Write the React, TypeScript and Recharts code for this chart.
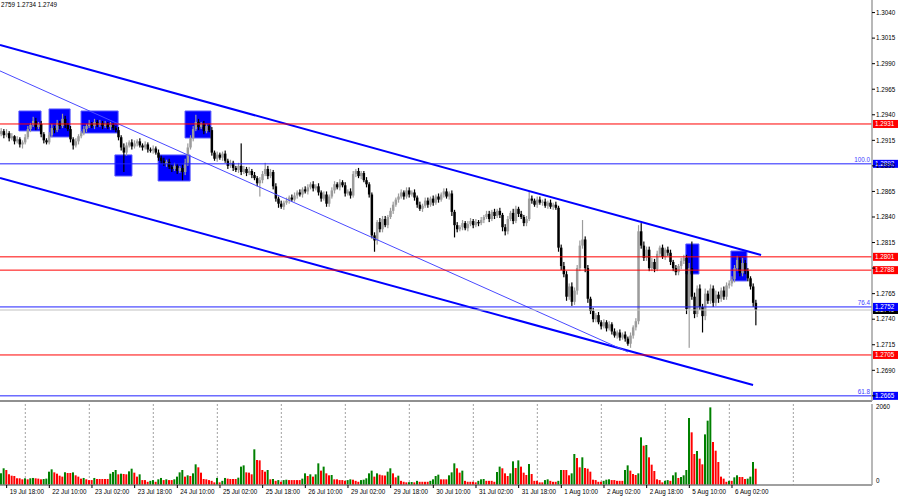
import {
  ComposedChart, Bar, Cell,
  XAxis, YAxis,
  CartesianGrid,
  ReferenceLine, ReferenceArea,
} from 'recharts'

// prices are stored as pips: 2924 -> 1.2924
const FIRST_OPEN = 2921

const closes = [
  2924, 2920, 2922, 2917, 2919, 2914, 2916, 2911, 2913, 2918,
  2926, 2930, 2934, 2928, 2931, 2921, 2915, 2913, 2920, 2927,
  2925, 2932, 2929, 2936, 2930, 2926, 2916, 2910, 2914, 2919,
  2922, 2926, 2929, 2931, 2929, 2933, 2930, 2932, 2929, 2931,
  2928, 2930, 2927, 2925, 2918, 2908, 2903, 2910, 2913, 2909,
  2912, 2914, 2910, 2908, 2911, 2906, 2905, 2907, 2903, 2898,
  2895, 2892, 2894, 2889, 2887, 2890, 2885, 2888, 2884, 2893,
  2908, 2917, 2926, 2933, 2928, 2931, 2924, 2929, 2925, 2903,
  2897, 2901, 2898, 2902, 2895, 2890, 2893, 2888, 2886, 2890,
  2884, 2887, 2883, 2885, 2881, 2878, 2873, 2876, 2882, 2887,
  2880, 2884, 2870, 2858, 2853, 2850, 2854, 2856, 2859, 2857,
  2861, 2864, 2862, 2867, 2865, 2869, 2872, 2868, 2870, 2864,
  2858, 2862, 2853, 2860, 2866, 2872, 2869, 2874, 2871, 2863,
  2865, 2861, 2882, 2885, 2880, 2883, 2876, 2872, 2862, 2822,
  2817, 2835, 2828, 2838, 2832, 2840, 2846, 2852, 2857, 2860,
  2864, 2860, 2866, 2862, 2864, 2859, 2852, 2848, 2851, 2856,
  2852, 2858, 2854, 2860, 2857, 2862, 2865, 2860, 2863, 2845,
  2832, 2828, 2830, 2834, 2829, 2833, 2836, 2832, 2835, 2834,
  2837, 2840, 2843, 2838, 2845, 2841, 2846, 2842, 2830, 2826,
  2838, 2844, 2836, 2848, 2843, 2840, 2834, 2838, 2858, 2856,
  2852, 2857, 2854, 2855, 2851, 2854, 2850, 2852, 2849, 2810,
  2792, 2784, 2762, 2772, 2757, 2768, 2790, 2812, 2818, 2790,
  2760, 2748, 2740, 2744, 2737, 2733, 2737, 2731, 2735, 2728,
  2724, 2727, 2722, 2725, 2721, 2716, 2724, 2732, 2738, 2826,
  2812, 2800, 2808, 2790, 2796, 2789, 2804, 2810, 2801, 2808,
  2805, 2796, 2790, 2786, 2792, 2797, 2800, 2750, 2790, 2762,
  2745, 2770, 2752, 2743, 2765, 2758, 2770, 2756, 2764, 2760,
  2768, 2762, 2773, 2775, 2779, 2790, 2798, 2785, 2795, 2787,
  2780, 2772, 2756, 2749,
]

// wick length above the body / below the body, in pips
const upWick = [
  3, 2, 4, 2, 3, 1, 3, 2, 2, 3,
  3, 2, 4, 3, 2, 3, 2, 2, 3, 4,
  2, 3, 2, 5, 3, 2, 3, 2, 3, 2,
  2, 3, 2, 4, 2, 3, 2, 3, 2, 3,
  2, 3, 2, 2, 3, 2, 4, 3, 2, 3,
  3, 2, 3, 2, 3, 2, 2, 3, 2, 3,
  2, 3, 2, 3, 2, 3, 2, 2, 3, 4,
  4, 3, 3, 7, 3, 2, 3, 2, 2, 3,
  2, 3, 2, 2, 3, 2, 3, 2, 2, 3,
  22, 3, 2, 4, 2, 3, 2, 3, 3, 6,
  3, 3, 2, 3, 2, 3, 2, 3, 2, 3,
  3, 2, 3, 2, 3, 3, 2, 3, 2, 3,
  2, 3, 3, 2, 3, 3, 2, 3, 2, 3,
  2, 3, 3, 2, 3, 2, 2, 3, 2, 2,
  3, 2, 4, 3, 3, 2, 3, 3, 2, 3,
  3, 2, 3, 3, 2, 3, 2, 3, 2, 3,
  3, 2, 3, 2, 3, 2, 3, 3, 2, 3,
  2, 3, 2, 3, 2, 3, 3, 2, 3, 2,
  3, 2, 3, 3, 2, 3, 2, 3, 2, 3,
  3, 2, 4, 3, 2, 3, 2, 3, 7, 3,
  2, 3, 3, 2, 3, 2, 3, 2, 3, 2,
  3, 4, 3, 3, 4, 3, 3, 5, 19, 3,
  3, 2, 3, 2, 3, 2, 3, 2, 3, 2,
  3, 2, 3, 2, 3, 2, 3, 2, 3, 6,
  8, 4, 3, 3, 4, 3, 3, 2, 3, 2,
  3, 3, 2, 3, 2, 3, 3, 3, 5, 26,
  4, 3, 4, 3, 5, 3, 4, 3, 4, 3,
  3, 4, 3, 3, 3, 3, 4, 3, 5, 3,
  3, 2, 3, 3,
]

const downWick = [
  2, 3, 2, 3, 2, 3, 2, 3, 4, 2,
  2, 3, 2, 3, 2, 3, 3, 2, 2, 2,
  3, 2, 3, 2, 3, 2, 3, 4, 2, 3,
  2, 2, 3, 2, 2, 3, 2, 2, 3, 2,
  2, 3, 2, 2, 3, 3, 19, 3, 2, 3,
  2, 3, 2, 3, 2, 3, 2, 3, 2, 3,
  3, 2, 3, 2, 3, 2, 3, 2, 8, 3,
  3, 2, 3, 2, 3, 2, 3, 2, 2, 3,
  2, 3, 2, 3, 2, 3, 2, 3, 2, 3,
  3, 2, 3, 2, 3, 2, 3, 13, 3, 2,
  3, 2, 3, 3, 4, 2, 3, 2, 3, 2,
  2, 3, 2, 3, 2, 3, 2, 3, 2, 3,
  3, 2, 3, 3, 2, 3, 2, 3, 2, 3,
  2, 3, 2, 3, 2, 3, 2, 3, 3, 3,
  11, 4, 3, 3, 2, 3, 2, 3, 2, 3,
  2, 3, 2, 3, 2, 3, 3, 2, 3, 2,
  3, 2, 3, 2, 3, 2, 3, 2, 3, 4,
  12, 3, 2, 3, 2, 3, 2, 3, 2, 3,
  2, 3, 2, 3, 2, 3, 2, 3, 4, 4,
  3, 2, 3, 2, 3, 2, 3, 3, 2, 3,
  2, 3, 2, 3, 2, 3, 2, 3, 2, 4,
  4, 3, 4, 3, 4, 3, 4, 3, 3, 4,
  4, 3, 3, 3, 2, 3, 2, 3, 2, 3,
  2, 3, 3, 2, 3, 2, 4, 3, 3, 3,
  3, 3, 3, 3, 3, 3, 2, 3, 2, 3,
  3, 3, 3, 3, 3, 3, 3, 5, 38, 3,
  4, 3, 3, 16, 4, 3, 3, 4, 3, 4,
  3, 3, 3, 3, 3, 3, 3, 3, 3, 3,
  3, 3, 4, 15,
]

const volumes = [
  308, 441, 396, 282, 246, 238, 177, 177, 150, 177,
  150, 177, 186, 177, 168, 150, 159, 168, 352, 414,
  334, 299, 246, 221, 334, 317, 317, 334, 256, 221,
  168, 186, 150, 130, 130, 186, 159, 159, 159, 159,
  159, 299, 343, 396, 282, 299, 291, 282, 361, 431,
  326, 221, 282, 130, 130, 85, 110, 130, 85, 150,
  186, 130, 150, 130, 130, 150, 221, 334, 396, 221,
  256, 238, 308, 546, 467, 326, 159, 150, 130, 110,
  70, 186, 70, 110, 186, 168, 159, 159, 159, 194,
  485, 519, 334, 326, 282, 942, 661, 651, 396, 352,
  396, 150, 159, 110, 130, 85, 130, 140, 130, 130,
  130, 130, 130, 168, 308, 238, 282, 221, 282, 572,
  379, 485, 308, 256, 264, 150, 150, 130, 130, 110,
  130, 150, 140, 110, 85, 130, 140, 177, 308, 379,
  221, 308, 273, 256, 250, 352, 441, 308, 203, 246,
  110, 85, 70, 75, 80, 70, 110, 85, 85, 85,
  85, 110, 150, 238, 273, 150, 150, 150, 256, 334,
  572, 441, 326, 379, 110, 85, 85, 85, 70, 110,
  150, 159, 110, 110, 110, 85, 343, 485, 441, 308,
  238, 308, 625, 449, 651, 485, 326, 264, 554, 291,
  110, 110, 70, 70, 130, 150, 110, 85, 85, 110,
  396, 396, 396, 256, 308, 819, 713, 467, 731, 449,
  431, 352, 140, 130, 85, 85, 110, 140, 150, 130,
  130, 110, 110, 110, 396, 519, 379, 291, 264, 308,
  1259, 1039, 1056, 731, 537, 370, 150, 130, 70, 110,
  130, 110, 256, 334, 186, 211, 256, 396, 1769, 1391,
  819, 898, 696, 546, 1337, 1699, 2050, 1136, 906, 607,
  221, 168, 85, 110, 110, 203, 256, 211, 211, 159,
  168, 221, 607, 431,
]

const timeLabels = [
  '19 Jul 18:00', '22 Jul 10:00', '23 Jul 02:00', '23 Jul 18:00', '24 Jul 10:00',
  '25 Jul 02:00', '25 Jul 18:00', '26 Jul 10:00', '29 Jul 02:00', '29 Jul 18:00',
  '30 Jul 10:00', '31 Jul 02:00', '31 Jul 18:00', '1 Aug 10:00', '2 Aug 02:00',
  '2 Aug 18:00', '5 Aug 10:00', '6 Aug 02:00',
]
const FIRST_LABEL_BAR = 2
const BARS_PER_LABEL = 16

// 1.2790 and 1.2665 sit under the level tags, so only their tick marks show
const priceTicks = [
  1.2665, 1.2690, 1.2715, 1.2740, 1.2765, 1.2790, 1.2815, 1.2840,
  1.2865, 1.2890, 1.2915, 1.2940, 1.2965, 1.2990, 1.3015, 1.3040,
]
const hiddenTickLabels = [1.2665, 1.2790]
const volumeTicks = [0, 2060]

const redLevels = [1.2931, 1.2801, 1.2788, 1.2705]
const fibPrices = [1.2892, 1.2752, 1.2665]
const fibNames = ['100.0', '76.4', '61.8']
const lastPrice = 1.2749
const ohlcText = '2759 1.2734 1.2749'

// daily separators (bar index)
const gridBars = [9, 33, 57, 81, 105, 129, 153, 177, 201, 225, 249, 273, 297]

// trend lines: [barFrom, priceFrom, barTo, priceTo]
const channelTop = [-0.49, 1.30083, 284.9, 1.28028]
const channelBottom = [-0.49, 1.28782, 281.9, 1.26756]
const midLine = [-0.49, 1.29829, 235, 1.27079]

// highlighted zones: [barFrom, barTo, priceLow, priceHigh]
const zones = [
  [6.6, 14.9, 1.29242, 1.29437],
  [17.9, 25.8, 1.29183, 1.29457],
  [29.9, 43.8, 1.29222, 1.29437],
  [42.6, 49.0, 1.28801, 1.29007],
  [58.8, 70.8, 1.28752, 1.29007],
  [68.9, 78.6, 1.29173, 1.29437],
  [256.7, 261.6, 1.27842, 1.28136],
  [273.6, 279.6, 1.27774, 1.28067],
]

const X_DOMAIN: [number, number] = [-0.49, 326.5]
const PRICE_DOMAIN: [number, number] = [1.265996, 1.30523]
const VOL_DOMAIN: [number, number] = [0, 2139]

const px = (p: number) => 1 + p / 10000

const candles = closes.map((c, i) => {
  const o = i === 0 ? FIRST_OPEN : closes[i - 1]
  const hi = Math.max(o, c) + upWick[i]
  const lo = Math.min(o, c) - downWick[i]
  return {
    i,
    open: px(o),
    close: px(c),
    high: px(hi),
    low: px(lo),
    range: [px(lo), px(hi)],
  }
})

const volData = volumes.map((v, i) => ({
  i,
  vol: v,
  color: i > 0 && v <= volumes[i - 1] ? '#ff0000' : '#008000',
}))

const timeTicks = timeLabels.map((_, k) => FIRST_LABEL_BAR + k * BARS_PER_LABEL)

const FONT = 6.3

function Candle(props: any) {
  const { x, y, width, height, payload } = props
  if (!payload || x == null || y == null) return null
  const top = Math.min(y, y + height)
  const h = Math.abs(height)
  const span = payload.high - payload.low
  const k = span > 0 ? h / span : 0
  const yo = top + (payload.high - payload.open) * k
  const yc = top + (payload.high - payload.close) * k
  const bull = payload.close >= payload.open
  const color = bull ? '#9c9c9c' : '#000000'
  const cx = x + width / 2
  const bodyTop = Math.min(yo, yc)
  const bodyH = Math.max(1.2, Math.abs(yc - yo))
  return (
    <g>
      <rect x={cx - 0.6} y={top} width={1.2} height={Math.max(1, h)} fill={color} />
      <rect x={cx - 1.25} y={bodyTop} width={2.5} height={bodyH} fill={color} />
    </g>
  )
}

function PriceTag(props: any) {
  const { viewBox, text, fill, name } = props
  if (!viewBox) return null
  const right = viewBox.x + viewBox.width
  const y = viewBox.y
  return (
    <g>
      {name && (
        <text x={right - 2} y={y - 1.5} textAnchor="end" fontSize={FONT} fill="#3c3cff">{name}</text>
      )}
      <rect x={right + 1} y={y - 4} width={25} height={8} fill={fill} />
      <text x={right + 3} y={y + 2.3} fontSize={FONT} fill="#ffffff">{text}</text>
    </g>
  )
}

function PriceTick(props: any) {
  const { x, y, payload } = props
  const showText = !hiddenTickLabels.includes(payload.value)
  return (
    <g>
      <line x1={x} x2={x + 3} y1={y} y2={y} stroke="#000" />
      {showText && (
        <text x={x + 4} y={y + 2.3} fontSize={FONT} fill="#000">{payload.value.toFixed(4)}</text>
      )}
    </g>
  )
}

function VolumeTick(props: any) {
  const { x, y, payload } = props
  const ty = payload.value === 0 ? y - 4 : y
  return (
    <text x={x + 4} y={ty + 2.3} fontSize={FONT} fill="#000">{payload.value}</text>
  )
}

function TimeTick(props: any) {
  const { x, y, payload } = props
  const k = Math.round((payload.value - FIRST_LABEL_BAR) / BARS_PER_LABEL)
  return (
    <g>
      <line x1={x} x2={x} y1={y} y2={y + 3} stroke="#000" />
      <text x={x + 3} y={y + 9} fontSize={FONT} fill="#000">{timeLabels[k]}</text>
    </g>
  )
}

const seg = (l: number[]) => [{ x: l[0], y: l[1] }, { x: l[2], y: l[3] }] as any

export default function App() {
  return (
    <div
      style={{
        position: 'absolute', left: 0, top: 0, width: 900, height: 500,
        background: '#fff', overflow: 'hidden',
        fontFamily: '"Liberation Sans", Arial, sans-serif',
      }}
    >
      <ComposedChart width={900} height={403} data={candles} margin={{ top: 0, right: 0, bottom: 0, left: 0 }}>
        <CartesianGrid horizontal={false} verticalValues={gridBars} stroke="#a0a0a0" strokeDasharray="2 2" />
        <XAxis
          type="number"
          dataKey="i"
          domain={X_DOMAIN}
          allowDataOverflow
          tick={false}
          tickLine={false}
          height={2}
          axisLine={{ stroke: '#909090', strokeWidth: 2 }}
        />
        <YAxis
          type="number"
          orientation="right"
          domain={PRICE_DOMAIN}
          allowDataOverflow
          ticks={priceTicks}
          interval={0}
          width={28}
          tickLine={false}
          tickSize={0}
          tickMargin={0}
          tick={<PriceTick />}
          axisLine={{ stroke: '#a0a0a0', strokeWidth: 1.5 }}
        />
        {zones.map((z, k) => (
          <ReferenceArea
            key={'z' + k}
            x1={z[0]} x2={z[1]} y1={z[2]} y2={z[3]}
            fill="#0000ff" fillOpacity={1} stroke="#5a5aff" strokeWidth={1}
          />
        ))}
        <Bar dataKey="range" barSize={3} shape={(p: any) => <Candle {...p} />} isAnimationActive={false} />
        <ReferenceLine segment={seg(channelTop)} stroke="#0000ff" strokeWidth={2} ifOverflow="visible" />
        <ReferenceLine segment={seg(channelBottom)} stroke="#0000ff" strokeWidth={2} ifOverflow="visible" />
        <ReferenceLine segment={seg(midLine)} stroke="#4a4aff" strokeWidth={1} ifOverflow="visible" />
        <ReferenceLine
          y={lastPrice}
          stroke="#c0c0c0"
          label={<PriceTag text={lastPrice.toFixed(4)} fill="#000000" />}
        />
        {redLevels.map(p => (
          <ReferenceLine
            key={'r' + p}
            y={p}
            stroke="#ff0000"
            label={<PriceTag text={p.toFixed(4)} fill="#ff0000" />}
          />
        ))}
        {fibPrices.map((p, k) => (
          <ReferenceLine
            key={'f' + p}
            y={p}
            stroke="#2020ff"
            label={<PriceTag text={p.toFixed(4)} fill="#0000ff" name={fibNames[k]} />}
          />
        ))}
      </ComposedChart>

      <ComposedChart width={900} height={97} data={volData} margin={{ top: 1, right: 0, bottom: 0, left: 0 }}>
        <CartesianGrid horizontal={false} verticalValues={gridBars} stroke="#a0a0a0" strokeDasharray="2 2" />
        <XAxis
          type="number"
          dataKey="i"
          domain={X_DOMAIN}
          allowDataOverflow
          ticks={timeTicks}
          interval={0}
          height={15}
          tickLine={false}
          tickSize={0}
          tickMargin={0}
          tick={<TimeTick />}
          axisLine={{ stroke: '#808080', strokeWidth: 1.5 }}
        />
        <YAxis
          type="number"
          orientation="right"
          domain={VOL_DOMAIN}
          allowDataOverflow
          ticks={volumeTicks}
          interval={0}
          width={28}
          tickLine={false}
          tickSize={0}
          tickMargin={0}
          tick={<VolumeTick />}
          axisLine={{ stroke: '#a0a0a0', strokeWidth: 1.5 }}
        />
        <Bar dataKey="vol" barSize={2} isAnimationActive={false}>
          {volData.map(d => (
            <Cell key={d.i} fill={d.color} />
          ))}
        </Bar>
      </ComposedChart>

      <div
        style={{
          position: 'absolute', left: 1, top: 0, fontSize: FONT, lineHeight: '9px',
          whiteSpace: 'nowrap', color: '#000',
        }}
      >
        {ohlcText}
      </div>
    </div>
  )
}
